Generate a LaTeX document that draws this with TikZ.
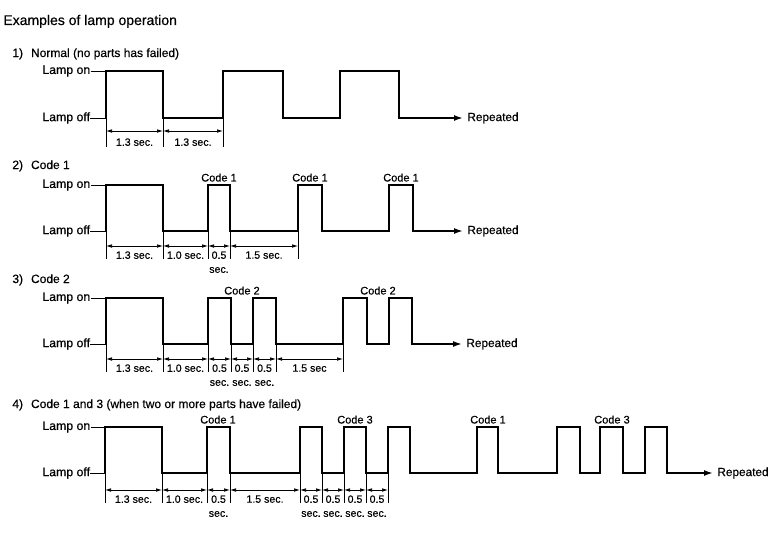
\documentclass[tikz,border=0pt]{standalone}
\usepackage{fontspec}
\setsansfont{Liberation Sans}[FakeBold=0.4]
\usetikzlibrary{arrows.meta}
\tikzset{
  every picture/.style={font=\sffamily, line width=0.8pt},
  wave/.style={line width=1.7pt, -{Latex[length=9pt, width=6pt]}},
  lead/.style={line width=0.9pt},
  ext/.style={line width=0.8pt},
  dim/.style={{Latex[length=6pt, width=3.6pt]}-{Latex[length=6pt, width=3.6pt]}, line width=0.7pt},
  lvl/.style={anchor=west, inner sep=0pt, font=\sffamily\fontsize{12.3}{14}\selectfont},
  codelbl/.style={anchor=south, inner sep=3pt, font=\sffamily\fontsize{11}{13}\selectfont},
  dimlbl/.style={anchor=north, align=center, inner sep=1pt, font=\sffamily\fontsize{10.6}{14}\selectfont},
  reptext/.style={anchor=west, inner sep=4pt, font=\sffamily\fontsize{11.8}{13}\selectfont},
  head/.style={anchor=base west, inner sep=0pt, font=\sffamily\fontsize{12}{14}\selectfont},
}

\begin{document}
\begin{tikzpicture}[x=1pt, y=-1pt]
  \useasboundingbox (0,0) rectangle (770,535);
  \node[head, font=\sffamily\fontsize{14}{16}\selectfont] (title) at (3,25) {Examples of lamp operation};

  % 1) normal
  \node[head] (h1) at (12,57) {1)\hspace{8pt}Normal (no parts has failed)};
  \node[lvl] (on1) at (42,71) {Lamp on};
  \node[lvl] (off1) at (42,118) {Lamp off};
  \coordinate (s1) at (106,118);
  \node[reptext] (rep1) at (463,118) {Repeated};
  \draw[lead] (on1.east) -- (s1 |- on1.east);
  \draw[lead] (off1.east) -- (s1);
  \draw[wave] (s1) |- (163,71) |- (223,118) |- (283,71) |- (340,118) |- (399,71) |- (rep1.west);
  \foreach \x in {106,163,223} \draw[ext] (\x,118) -- (\x,147);
  \foreach \a/\b/\t [count=\i] in {106/163/{1.3 sec.}, 163/223/{1.3 sec.}} {
    \draw[dim] (\a,131) -- (\b,131);
    \node[dimlbl] (d1-\i) at ({(\a+\b)/2},137) {\t};
  }

  % 2) code 1
  \node[head] (h2) at (12,169) {2)\hspace{8pt}Code 1};
  \node[lvl] (on2) at (42,185) {Lamp on};
  \node[lvl] (off2) at (42,231) {Lamp off};
  \coordinate (s2) at (106,231);
  \node[reptext] (rep2) at (463,231) {Repeated};
  \draw[lead] (on2.east) -- (s2 |- on2.east);
  \draw[lead] (off2.east) -- (s2);
  \draw[wave] (s2) |- (163,185) |- (208,231) |- (230,185) |- (298,231) |- (322,185) |- (389,231) |- (413,185) |- (rep2.west);
  \foreach \x [count=\i] in {219,310,401} \node[codelbl] (c2-\i) at (\x,185) {Code 1};
  \foreach \x in {106,163,208,230,298} \draw[ext] (\x,231) -- (\x,259);
  \foreach \a/\b/\t [count=\i] in {106/163/{1.3 sec.}, 163/208/{1.0 sec.}, 208/230/{0.5\\sec.}, 230/298/{1.5 sec.}} {
    \draw[dim] (\a,246) -- (\b,246);
    \node[dimlbl] (d2-\i) at ({(\a+\b)/2},250) {\t};
  }

  % 3) code 2
  \node[head] (h3) at (12,283) {3)\hspace{8pt}Code 2};
  \node[lvl] (on3) at (42,298) {Lamp on};
  \node[lvl] (off3) at (42,344) {Lamp off};
  \coordinate (s3) at (106,344);
  \node[reptext] (rep3) at (462,344) {Repeated};
  \draw[lead] (on3.east) -- (s3 |- on3.east);
  \draw[lead] (off3.east) -- (s3);
  \draw[wave] (s3) |- (163,298) |- (208,344) |- (231,298) |- (253,344) |- (276,298) |- (343,344) |- (367,298) |- (389,344) |- (412,298) |- (rep3.west);
  \foreach \x [count=\i] in {242,378} \node[codelbl] (c3-\i) at (\x,298) {Code 2};
  \foreach \x in {106,163,208,231,253,276,343} \draw[ext] (\x,344) -- (\x,372);
  \foreach \a/\b/\t [count=\i] in {106/163/{1.3 sec.}, 163/208/{1.0 sec.}, 208/231/{0.5\\sec.}, 231/253/{0.5\\sec.}, 253/276/{0.5\\sec.}, 276/343/{1.5 sec}} {
    \draw[dim] (\a,359) -- (\b,359);
    \node[dimlbl] (d3-\i) at ({(\a+\b)/2},363) {\t};
  }

  % 4) code 1 and 3
  \node[head] (h4) at (12,408) {4)\hspace{8pt}Code 1 and 3 (when two or more parts have failed)};
  \node[lvl] (on4) at (42,427) {Lamp on};
  \node[lvl] (off4) at (42,473) {Lamp off};
  \coordinate (s4) at (105,473);
  \node[reptext] (rep4) at (713,473) {Repeated};
  \draw[lead] (on4.east) -- (s4 |- on4.east);
  \draw[lead] (off4.east) -- (s4);
  \draw[wave] (s4) |- (162,427) |- (207,473) |- (230,427) |- (300,473) |- (322,427) |- (344,473) |- (366,427) |- (388,473) |- (410,427) |- (477,473) |- (498,427) |- (557,473) |- (580,427) |- (600,473) |- (623,427) |- (645,473) |- (667,427) |- (rep4.west);
  \foreach \x/\t [count=\i] in {218/{Code 1}, 355/{Code 3}, 488/{Code 1}, 612/{Code 3}} \node[codelbl] (c4-\i) at (\x,427) {\t};
  \foreach \x in {105,162,207,230,300,322,344,366,388} \draw[ext] (\x,473) -- (\x,503);
  \foreach \a/\b/\t [count=\i] in {105/162/{1.3 sec.}, 162/207/{1.0 sec.}, 207/230/{0.5\\sec.}, 230/300/{1.5 sec.}, 300/322/{0.5\\sec.}, 322/344/{0.5\\sec.}, 344/366/{0.5\\sec.}, 366/388/{0.5\\sec.}} {
    \draw[dim] (\a,490) -- (\b,490);
    \node[dimlbl] (d4-\i) at ({(\a+\b)/2},494) {\t};
  }
\end{tikzpicture}
\end{document}
